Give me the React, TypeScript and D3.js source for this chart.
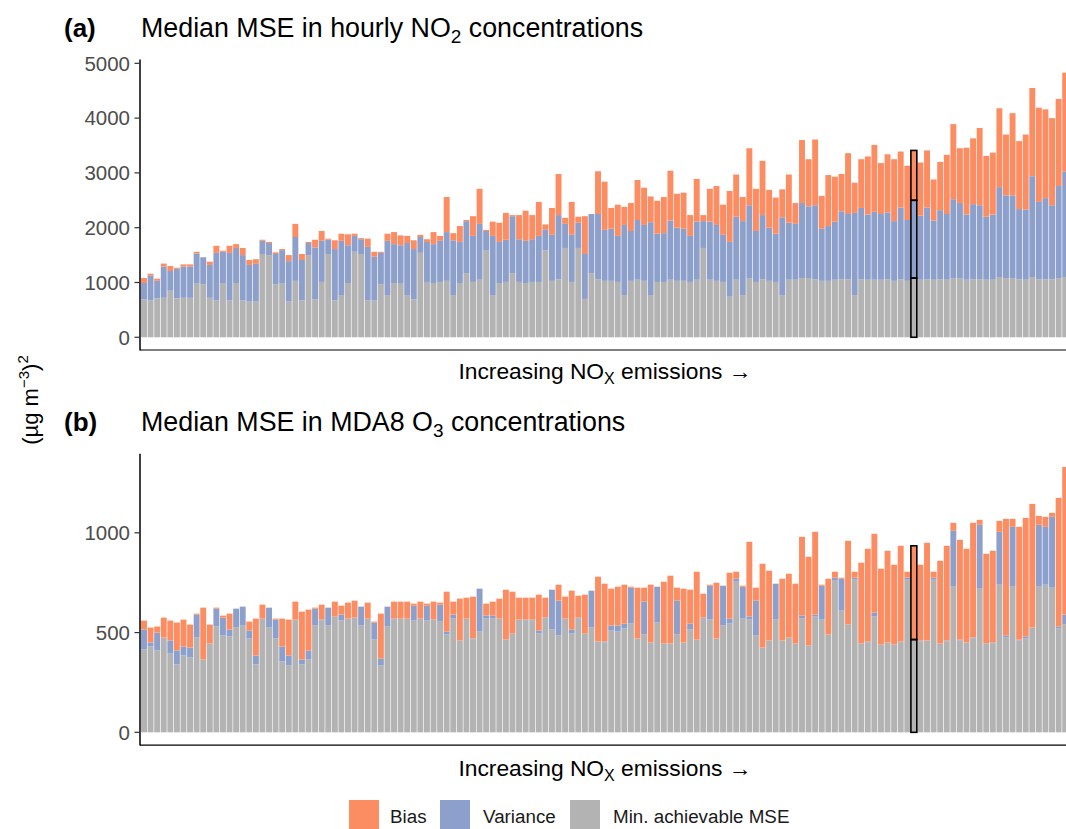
import React from 'react';
import * as d3 from 'd3';

// ---------- DATA ----------
// Panel (a): median MSE in hourly NO2, (ug m-3)^2
const no2Min = [
  690, 670, 710, 720, 850, 710, 720, 720, 990, 970,
  720, 670, 990, 670, 990, 670, 650, 650, 1520, 1500,
  970, 990, 650, 1030, 670, 1500, 690, 1010, 1520, 670,
  770, 990, 1560, 1520, 670, 670, 970, 770, 990, 990,
  770, 690, 1540, 1010, 990, 1010, 1030, 770, 990, 1170,
  1010, 1050, 1580, 770, 990, 1010, 1170, 1010, 990, 1010,
  1010, 1590, 1030, 1060, 1630, 1010, 1630, 700, 1170, 1060,
  1030, 1030, 1010, 770, 1030, 1050, 1030, 770, 1010, 1010,
  1050, 1030, 1030, 1010, 1050, 1630, 1050, 1030, 1010, 740,
  1050, 770, 1080, 1010, 1060, 1030, 1010, 770, 1050, 1050,
  1080, 1080, 1060, 1030, 1030, 1050, 1060, 1060, 770, 1060,
  1050, 1050, 1050, 1060, 1030, 1060, 1030, 1080, 1050, 1060,
  1050, 1060, 1050, 1080, 1080, 1050, 1060, 1060, 1050, 1050,
  1100, 1080, 1080, 1060, 1050, 1100, 1060, 1060, 1060, 1080,
  1100,
];
const no2Var = [
  300, 460, 320, 570, 360, 540, 570, 570, 540, 490,
  600, 870, 570, 870, 640, 830, 670, 690, 240, 220,
  550, 600, 740, 800, 740, 220, 950, 750, 260, 940,
  990, 690, 290, 270, 980, 800, 570, 990, 710, 690,
  950, 920, 290, 730, 710, 750, 890, 1000, 750, 950,
  840, 1020, 360, 1080, 750, 770, 1040, 780, 770, 780,
  840, 380, 840, 1170, 440, 860, 460, 820, 1080, 1190,
  930, 950, 840, 1280, 910, 1090, 1020, 1330, 880, 890,
  1080, 970, 950, 840, 1060, 490, 1060, 1020, 860, 1000,
  1150, 1350, 1330, 930, 1170, 970, 880, 1420, 1040, 1020,
  1370, 1310, 1350, 950, 1000, 1060, 1240, 1190, 1500, 1300,
  1190, 1240, 1200, 1220, 1090, 1310, 1110, 1420, 1170, 1310,
  1080, 1260, 1200, 1440, 1370, 1190, 1370, 1350, 1150, 1190,
  1640, 1510, 1510, 1280, 1280, 1840, 1410, 1480, 1350, 1680,
  1920,
];
const no2Bias = [
  90, 30, 40, 55, 90, 20, 40, 40, 30, 0,
  60, 130, 20, 130, 70, 130, 90, 85, 20, 20,
  30, 20, 110, 240, 110, 20, 140, 180, 20, 160,
  130, 200, 40, 20, 150, 90, 20, 130, 220, 180,
  130, 160, 40, 50, 220, 90, 640, 130, 290, 20,
  360, 640, 20, 260, 350, 490, 20, 440, 550, 440,
  620, 90, 490, 750, 110, 600, 110, 690, 0, 780,
  880, 380, 570, 330, 510, 730, 680, 470, 600, 660,
  910, 620, 660, 380, 780, 110, 600, 710, 550, 930,
  770, 440, 1040, 770, 990, 690, 660, 510, 880, 380,
  1150, 860, 1200, 600, 930, 820, 680, 1110, 550, 890,
  1060, 1220, 930, 1060, 1130, 1020, 990, 910, 970, 1040,
  750, 880, 1080, 1370, 1000, 1220, 1200, 1410, 1110, 1130,
  1440, 1110, 1500, 1240, 1370, 1610, 1720, 1620, 1590, 1590,
  1810,
];

// Panel (b): median MSE in MDA8 O3, (ug m-3)^2
const o3Min = [
  415, 430, 410, 475, 395, 340, 385, 375, 475, 365,
  445, 530, 485, 480, 525, 535, 470, 340, 570, 525,
  470, 355, 335, 565, 340, 365, 535, 560, 535, 580,
  560, 570, 575, 535, 570, 465, 335, 530, 565, 570,
  570, 560, 570, 560, 565, 555, 490, 570, 460, 570,
  465, 505, 570, 570, 570, 465, 495, 565, 560, 560,
  495, 575, 515, 485, 570, 495, 570, 495, 525, 455,
  450, 510, 505, 520, 545, 470, 490, 450, 550, 445,
  445, 490, 450, 515, 465, 575, 565, 470, 535, 545,
  755, 570, 565, 485, 425, 460, 565, 460, 475, 445,
  570, 435, 580, 565, 490, 760, 610, 540, 765, 445,
  450, 580, 440, 450, 440, 455, 765, 465, 455, 460,
  765, 445, 455, 730, 460, 450, 470, 720, 445, 445,
  740, 475, 730, 460, 470, 525, 730, 740, 725, 520,
  540,
];
const o3Var = [
  100, 20, 90, 0, 65, 70, 45, 50, 115, 0,
  0, 90, 90, 35, 95, 95, 40, 45, 0, 100,
  95, 75, 50, 0, 25, 45, 85, 5, 90, 0,
  30, 0, 0, 95, 0, 85, 35, 100, 5, 0,
  0, 75, 0, 75, 0, 85, 15, 20, 0, 0,
  5, 215, 15, 15, 0, 0, 0, 0, 5, 5,
  15, 0, 200, 175, 0, 20, 5, 0, 185, 0,
  5, 25, 30, 25, 180, 0, 165, 0, 180, 0,
  0, 170, 0, 30, 0, 0, 170, 0, 200, 25,
  15, 160, 15, 175, 0, 0, 180, 0, 0, 0,
  15, 0, 10, 170, 0, 15, 160, 0, 10, 0,
  5, 20, 0, 0, 0, 0, 10, 0, 5, 0,
  10, 0, 5, 280, 5, 0, 5, 320, 0, 5,
  265, 10, 300, 5, 10, 0, 310, 290, 355, 10,
  50,
];
const o3Bias = [
  45, 75, 30, 100, 100, 140, 135, 115, 5, 260,
  95, 5, 10, 80, 0, 0, 45, 185, 70, 0,
  5, 140, 180, 90, 240, 205, 5, 75, 0, 75,
  45, 80, 85, 0, 80, 5, 225, 0, 85, 85,
  85, 10, 85, 10, 90, 10, 200, 65, 210, 105,
  210, 0, 60, 70, 100, 250, 210, 110, 110, 110,
  180, 100, 0, 80, 110, 195, 110, 195, 0, 325,
  290, 185, 195, 195, 5, 255, 70, 290, 0, 310,
  340, 65, 270, 170, 340, 120, 5, 280, 0, 230,
  35, 5, 375, 65, 420, 350, 0, 310, 320, 300,
  395, 445, 415, 5, 280, 30, 5, 420, 30, 405,
  465, 395, 380, 460, 400, 480, 30, 470, 380, 490,
  30, 415, 475, 40, 500, 470, 575, 25, 450, 460,
  55, 585, 40, 565, 595, 620, 45, 50, 20, 645,
  740,
];

const yTicksA = [0, 1000, 2000, 3000, 4000, 5000];
const yTicksB = [0, 500, 1000];
const seriesKeys = ['min', 'variance', 'bias'];
const legendLabels = ['Bias', 'Variance', 'Min. achievable MSE'];
const highlightedSite = 117;

// ---------- STYLE / LAYOUT ----------
const W = 1066;
const H = 829;
const COLORS: Record<string, string> = {
  bias: '#FC8D62',
  variance: '#8DA0CB',
  min: '#B3B3B3',
};
const FONT = '"Liberation Sans", Arial, Helvetica, sans-serif';
const X_FIRST = 144;
const STEP = 6.58;
const AXIS_X = 140;

type PanelDef = {
  tag: string;
  titlePre: string;
  titleSub: string;
  titlePost: string;
  min: number[];
  variance: number[];
  bias: number[];
  ticks: number[];
  top: number;
  bottom: number;
  titleY: number;
  xlabY: number;
};

const panels: PanelDef[] = [
  {
    tag: '(a)', titlePre: 'Median MSE in hourly NO', titleSub: '2', titlePost: ' concentrations',
    min: no2Min, variance: no2Var, bias: no2Bias, ticks: yTicksA,
    top: 59.4, bottom: 350.5, titleY: 37, xlabY: 379,
  },
  {
    tag: '(b)', titlePre: 'Median MSE in MDA8 O', titleSub: '3', titlePost: ' concentrations',
    min: o3Min, variance: o3Var, bias: o3Bias, ticks: yTicksB,
    top: 453.7, bottom: 745.6, titleY: 431, xlabY: 776,
  },
];

function Panel({ p }: { p: PanelDef }) {
  const n = p.min.length;
  const rows = p.min.map((m, i) => ({ i, min: m, variance: p.variance[i], bias: p.bias[i] }));
  const stacked = d3.stack<any>().keys(seriesKeys)(rows);
  const maxTotal = d3.max(rows, (r) => r.min + r.variance + r.bias) as number;
  const y = d3.scaleLinear().domain([-0.05 * maxTotal, 1.05 * maxTotal]).range([p.bottom, p.top]);
  const x = d3.scaleLinear().domain([0, n - 1]).range([X_FIRST, X_FIRST + STEP * (n - 1)]);
  const bw = STEP * 0.9;
  const clipId = 'clip' + p.tag.replace(/[()]/g, '');

  return (
    <g>
      <defs>
        <clipPath id={clipId}>
          <rect x={AXIS_X} y={p.top - 5} width={W - AXIS_X} height={p.bottom - p.top + 5} />
        </clipPath>
      </defs>
      <g clipPath={`url(#${clipId})`}>
        {stacked.map((layer) => (
          <g key={layer.key} fill={COLORS[layer.key]}>
            {layer.map((d, i) => {
              const h = y(d[0]) - y(d[1]);
              if (h <= 0) return null;
              return <rect key={i} x={x(i) - bw / 2} y={y(d[1])} width={bw} height={h} />;
            })}
          </g>
        ))}
        <g fill="none" stroke="#000" strokeWidth={1.6}>
          {stacked.map((layer) => {
            const d = layer[highlightedSite];
            const h = y(d[0]) - y(d[1]);
            if (h <= 0) return null;
            return (
              <rect key={layer.key} x={x(highlightedSite) - bw / 2} y={y(d[1])} width={bw} height={h} />
            );
          })}
        </g>
      </g>
      {/* axes */}
      <line x1={AXIS_X} x2={AXIS_X} y1={p.top} y2={p.bottom} stroke="#000" strokeWidth={1.5} />
      <line x1={AXIS_X} x2={W} y1={p.bottom - 0.5} y2={p.bottom - 0.5} stroke="#000" strokeWidth={1.2} />
      {p.ticks.map((t) => (
        <g key={t}>
          <line x1={AXIS_X - 5.5} x2={AXIS_X} y1={y(t)} y2={y(t)} stroke="#333" strokeWidth={1.2} />
          <text x={AXIS_X - 10} y={y(t)} dy="0.36em" textAnchor="end" fontSize={20.5} fill="#4D4D4D" fontFamily={FONT}>
            {t}
          </text>
        </g>
      ))}
      {/* titles */}
      <text x={64} y={p.titleY} fontSize={26} fontWeight="bold" fontFamily={FONT} fill="#000">{p.tag}</text>
      <text x={141} y={p.titleY} fontSize={26.8} fontFamily={FONT} fill="#000">
        {p.titlePre}
        <tspan fontSize={19} dy={6}>{p.titleSub}</tspan>
        <tspan dy={-6}>{p.titlePost}</tspan>
      </text>
      <text x={605} y={p.xlabY} textAnchor="middle" fontSize={22.8} fontFamily={FONT} fill="#000">
        Increasing NO
        <tspan fontSize={16} dy={5}>X</tspan>
        <tspan dy={-5}> emissions →</tspan>
      </text>
    </g>
  );
}

export default function App() {
  const legendX = [349, 440, 570];
  const legendTextX = [390, 483, 613];
  const legendKeys = ['bias', 'variance', 'min'];
  return (
    <svg width={W} height={H} style={{ position: 'absolute', left: 0, top: 0, background: '#fff' }}>
      <rect width={W} height={H} fill="#fff" />
      {panels.map((p) => (
        <Panel key={p.tag} p={p} />
      ))}
      <text transform="translate(38,400) rotate(-90)" textAnchor="middle" fontSize={22} fontFamily={FONT} fill="#000">
        (µg m
        <tspan fontSize={15} dy={-9}>−3</tspan>
        <tspan dy={9}>)</tspan>
        <tspan fontSize={15} dy={-10}>2</tspan>
      </text>
      {legendLabels.map((lab, k) => (
        <g key={lab}>
          <rect x={legendX[k]} y={800} width={30} height={29} fill={COLORS[legendKeys[k]]} />
          <text x={legendTextX[k]} y={823} fontSize={18.8} fontFamily={FONT} fill="#1a1a1a">{lab}</text>
        </g>
      ))}
    </svg>
  );
}
